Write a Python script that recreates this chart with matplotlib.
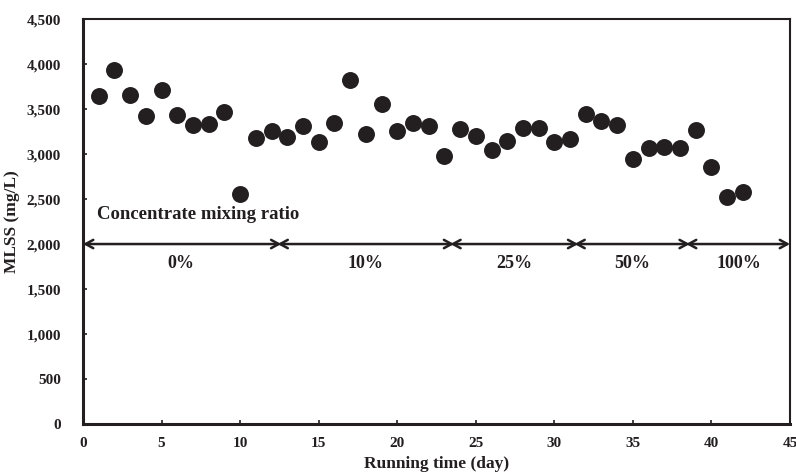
import matplotlib
matplotlib.use("Agg")
import matplotlib.pyplot as plt
from matplotlib.ticker import FuncFormatter

plt.rcParams['font.family'] = ['Liberation Serif', 'DejaVu Serif']
plt.rcParams['font.weight'] = 'bold'

# MLSS measurements per running day
days = list(range(1, 43))
mlss = [3650, 3930, 3660, 3420, 3710, 3430, 3320, 3330, 3470, 2560,
        3180, 3260, 3190, 3310, 3130, 3340, 3820, 3220, 3560, 3260,
        3340, 3310, 2980, 3280, 3200, 3040, 3140, 3290, 3290, 3130,
        3170, 3450, 3370, 3320, 2940, 3070, 3080, 3070, 3270, 2860,
        2520, 2580]

# Concentrate mixing ratio phases (day boundaries) and labels
phase_bounds = [0, 12.5, 23.5, 31.4, 38.5, 45]
phase_labels = ['0%', '10%', '25%', '50%', '100%']
phase_y = 2000

x_ticks = list(range(0, 46, 5))
y_ticks = list(range(0, 4501, 500))

ink = '#231f20'

fig = plt.figure(figsize=(7.96, 4.76), dpi=100)
ax = fig.add_axes([0.1043, 0.1092, 0.8882, 0.8508])

ax.plot(days, mlss, 'o', color=ink, markersize=12.2, markeredgewidth=0,
        zorder=3, clip_on=False)

# Phase arrows: neighbouring heads overlap at each boundary
ext = 0.12
n = len(phase_bounds) - 1
for i, (a, b) in enumerate(zip(phase_bounds[:-1], phase_bounds[1:])):
    a2 = a - ext if i > 0 else a
    b2 = b + ext if i < n - 1 else b
    ax.annotate('', xy=(b2, phase_y), xytext=(a2, phase_y),
                arrowprops=dict(arrowstyle='<->,head_length=0.55,head_width=0.3',
                                color=ink, lw=1.8,
                                shrinkA=0, shrinkB=0))
for (a, b), lab in zip(zip(phase_bounds[:-1], phase_bounds[1:]), phase_labels):
    ax.text((a + b) / 2, 1780, lab, ha='center', va='center',
            fontsize=13, fontweight='bold', color=ink)

ax.text(0.9, 2330, 'Concentrate mixing ratio', ha='left', va='center',
        fontsize=13.5, fontweight='bold', color=ink)

ax.set_xlim(0, 45)
ax.set_ylim(0, 4500)
ax.set_xticks(x_ticks)
ax.set_yticks(y_ticks)
ax.yaxis.set_major_formatter(FuncFormatter(lambda v, p: f'{int(v):,}'))
ax.tick_params(direction='in', length=3, width=1.2, labelsize=11,
               colors=ink)
for lab in ax.get_xticklabels() + ax.get_yticklabels():
    lab.set_fontweight('bold')
ax.tick_params(axis='x', pad=9)
ax.tick_params(axis='y', pad=16)

ax.set_xlabel('Running time (day)', fontsize=12.5, fontweight='bold',
              color=ink)
ax.set_ylabel('MLSS (mg/L)', fontsize=12.5, fontweight='bold', color=ink)
ax.xaxis.set_label_coords(0.5, -0.08)
ax.yaxis.set_label_coords(-0.089, 0.5)

for side in ['left', 'bottom']:
    ax.spines[side].set_linewidth(2.2)
for side in ['top', 'right']:
    ax.spines[side].set_linewidth(1.5)
for s in ax.spines.values():
    s.set_color(ink)

fig.savefig('out.png', dpi=100)
